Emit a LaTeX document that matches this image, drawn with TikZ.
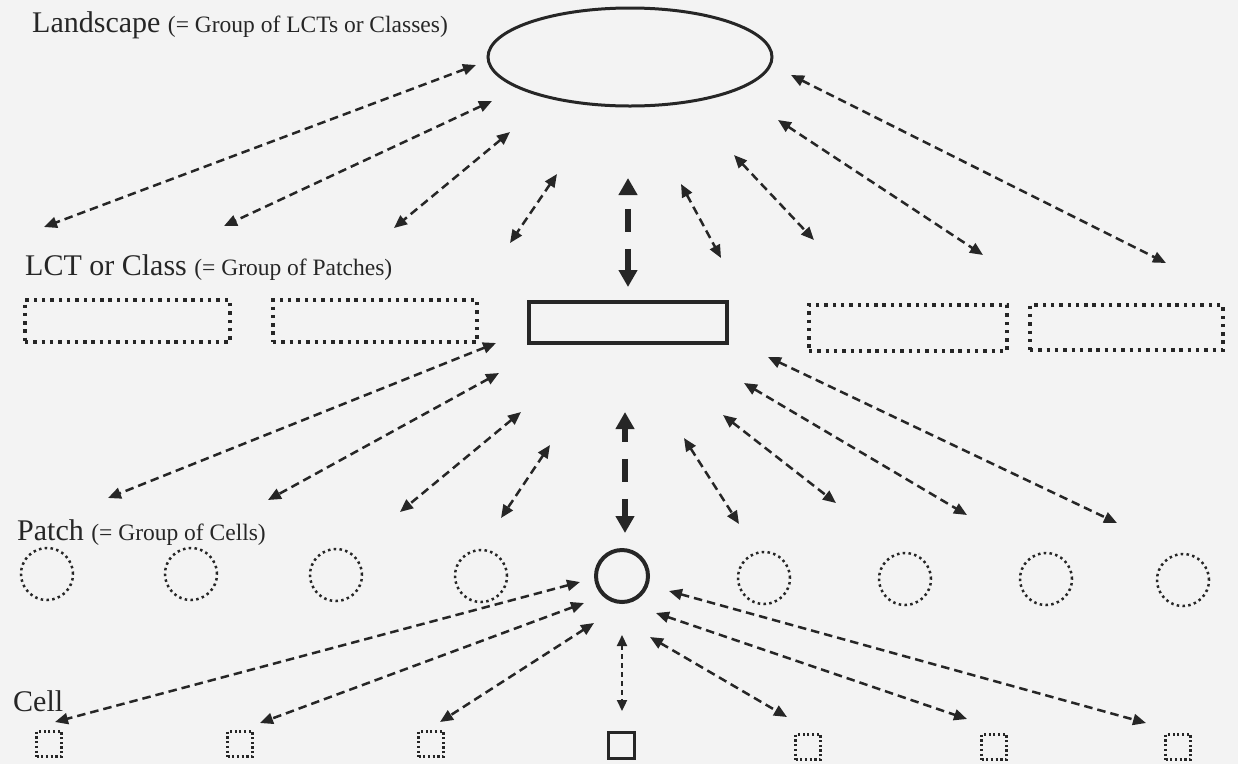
\documentclass[tikz,border=0pt]{standalone}
\usepackage{fontspec}
\setmainfont{Liberation Serif}
\usetikzlibrary{arrows.meta,shapes.geometric}
\newcommand{\notefont}{\fontsize{23.5pt}{24pt}\selectfont}

\begin{document}
\begin{tikzpicture}[x=1pt, y=-1pt,
  level/.style={anchor=base west, inner sep=0pt, text=InkColor, font=\fontsize{30pt}{30pt}\selectfont},
  solidbox/.style={rectangle, draw=InkColor, line width=4pt, inner sep=0pt},
  dotbox/.style={rectangle, draw=InkColor, line width=3.4pt, dash pattern=on 3.4pt off 4.9pt, inner sep=0pt},
  patch/.style={circle, draw=InkColor, line width=4pt, minimum size=52pt, inner sep=0pt},
  dotpatch/.style={circle, draw=InkColor, line width=2.5pt, dash pattern=on 2.5pt off 3.3pt, minimum size=52pt, inner sep=0pt},
  cell/.style={rectangle, draw=InkColor, line width=3pt, minimum size=26pt, inner sep=0pt},
  dotcell/.style={rectangle, draw=InkColor, line width=2.2pt, dash pattern=on 2.2pt off 2.5pt, minimum size=25pt, inner sep=0pt},
  link/.style={draw=InkColor, line width=2.5pt, dash pattern=on 8.5pt off 5pt, <->, >={Triangle[length=13pt,width=11pt]}},
  mainlink/.style={draw=InkColor, line width=6.5pt, dash pattern=on 23pt off 17pt, <->, >={Triangle[length=17pt,width=18pt]}},
  celllink/.style={draw=InkColor, line width=2.2pt, dash pattern=on 5pt off 4pt, <->, >={Triangle[length=11pt,width=10pt]}}
]

% Define Colors
\definecolor{InkColor}{HTML}{262626}
\definecolor{PaperColor}{HTML}{F3F3F3}

\fill[PaperColor] (0,0) rectangle (1238,764);

% Level Labels
\node[level] (landLabel) at (32,32) {Landscape {\notefont (= Group of LCTs or Classes)}};
\node[level] (lctLabel) at (25,275) {LCT or Class {\notefont (= Group of Patches)}};
\node[level] (patchLabel) at (17,540) {Patch {\notefont (= Group of Cells)}};
\node[level] (cellLabel) at (13,711) {Cell};

% Landscape
\node[ellipse, draw=InkColor, line width=3pt, inner sep=0pt, minimum width=284pt, minimum height=98pt] (land) at (630,57) {};

% LCT Row (5 Classes, middle one solid)
\node[dotbox, minimum width=205pt, minimum height=42pt] (lct1) at (127.5,321) {};
\node[dotbox, minimum width=204pt, minimum height=42pt] (lct2) at (375,321) {};
\node[solidbox, minimum width=198pt, minimum height=41pt] (lct3) at (628,322.5) {};
\node[dotbox, minimum width=198pt, minimum height=46pt] (lct4) at (908,328) {};
\node[dotbox, minimum width=193pt, minimum height=45pt] (lct5) at (1126.5,327.5) {};

% Patch Row (9 Patches, middle one solid)
\foreach \n/\x/\y in {1/47/574, 2/191/574, 3/336/575, 4/481/576, 6/764/578, 7/905/579, 8/1046/579, 9/1183/580} {
  \node[dotpatch] (patch\n) at (\x,\y) {};
}
\node[patch] (patch5) at (622,576) {};

% Cell Row (7 Cells, middle one solid)
\foreach \n/\x/\y in {1/49/744, 2/240/744, 3/431/744, 5/808/747, 6/994/747, 7/1178/747} {
  \node[dotcell] (cell\n) at (\x,\y) {};
}
\node[cell] (cell4) at (621,745) {};

% Landscape <-> LCT
\foreach \i/\xa/\ya/\xb/\yb in {
  1/476/65/44/227, 2/492/101/224/226, 3/510/132/394/228, 4/557/174/510/243,
  6/681/184/721/258, 7/734/155/814/240, 8/778/120/983/255, 9/791/75/1166/263%
} {
  \coordinate (landEnd\i) at (\xa,\ya);
  \coordinate (lctTop\i) at (\xb,\yb);
  \draw[link] (landEnd\i) -- (lctTop\i);
}
\coordinate (landMid) at (628,178);
\coordinate (lctMid) at (628,287);
\draw[mainlink, dash phase=25pt] (landMid) -- (lctMid);

% LCT <-> Patch
\foreach \i/\xa/\ya/\xb/\yb in {
  1/496/343/108/498, 2/499/373/268/500, 3/521/412/400/512, 4/550/445/501/518,
  6/684/438/739/524, 7/723/415/836/503, 8/744/383/967/515, 9/768/357/1117/523%
} {
  \coordinate (lctEnd\i) at (\xa,\ya);
  \coordinate (patchTop\i) at (\xb,\yb);
  \draw[link] (lctEnd\i) -- (patchTop\i);
}
\coordinate (lctLow) at (625,412);
\coordinate (patchMid) at (625,533);
\draw[mainlink, dash phase=9pt] (lctLow) -- (patchMid);

% Patch <-> Cell
\foreach \i/\xa/\ya/\xb/\yb in {
  1/580/582/55/722, 2/584/603/260/723, 3/594/623/440/722,
  5/650/637/787/717, 6/656/613/967/719, 7/669/591/1146/723%
} {
  \coordinate (patchEnd\i) at (\xa,\ya);
  \coordinate (cellTop\i) at (\xb,\yb);
  \draw[link] (patchEnd\i) -- (cellTop\i);
}
\coordinate (patchLow) at (622,635);
\coordinate (cellMid) at (622,711);
\draw[celllink] (patchLow) -- (cellMid);

\end{tikzpicture}
\end{document}
